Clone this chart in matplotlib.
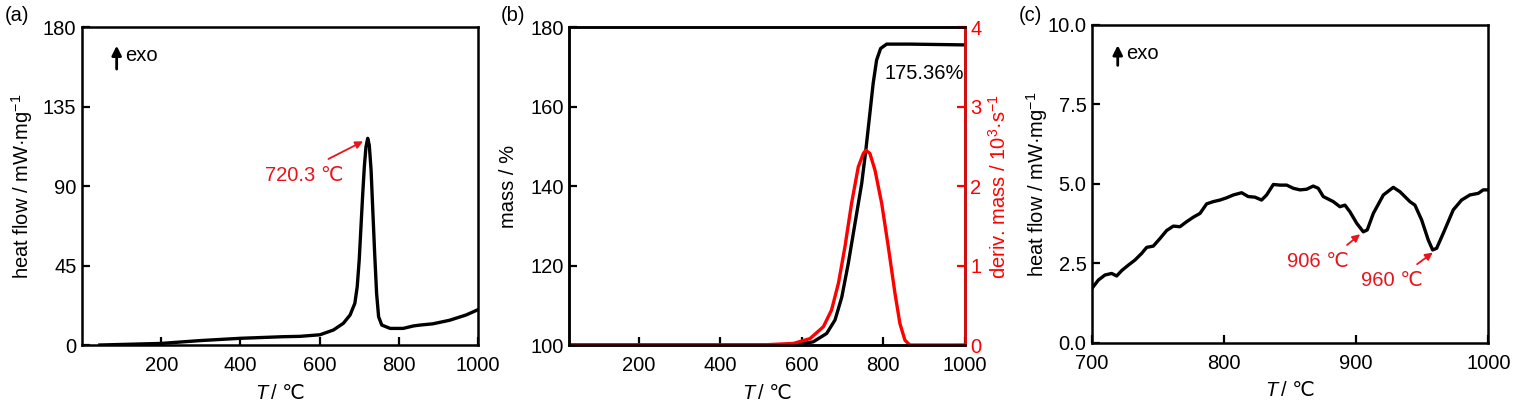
import numpy as np
import matplotlib
matplotlib.use("Agg")
import matplotlib.pyplot as plt

plt.rcParams['font.family'] = ['Liberation Sans Narrow', 'Liberation Sans', 'DejaVu Sans']
plt.rcParams['mathtext.fontset'] = 'custom'
plt.rcParams['mathtext.rm'] = 'Liberation Sans'
plt.rcParams['mathtext.it'] = 'Liberation Sans:italic'
plt.rcParams['font.size'] = 14.5

# (a) DSC over full range
dsc_t = [45, 200, 298, 400, 508, 550, 601, 635, 660, 677, 689, 695, 700, 704.5, 709, 713, 717, 721.5,
         725.5, 730, 734, 739, 744, 749, 757, 778, 811, 837, 854, 886, 928, 970, 1000]
dsc_hf = [0, 0.9, 2.5, 3.8, 4.7, 4.9, 5.8, 8.5, 12.3, 17, 23.6, 33, 48, 67, 86, 101, 112, 117,
          113, 99, 78, 52, 29, 16, 11.3, 9.4, 9.4, 10.8, 11.3, 12, 14, 17, 20]

# (b) TG / DTG
tg_t = [30, 590, 604, 628, 661, 681.5, 698, 714, 730.5, 747, 757, 767, 775, 783.5, 793.3, 808, 865, 1000]
tg_mass = [100, 100, 100.4, 100.8, 102.9, 106.3, 112, 120.5, 130.6, 140.7, 149, 158.3, 165.8, 171.7, 174.6, 175.7, 175.7, 175.5]
dtg_t = [30, 498, 580, 620, 653, 673, 690, 706, 722, 738.5, 751, 757, 767, 779.5, 796, 812, 828.5, 840.6, 853, 865, 1000]
dtg_rate = [0, 0, 0.02, 0.08, 0.23, 0.44, 0.78, 1.24, 1.78, 2.24, 2.41, 2.45, 2.41, 2.2, 1.78, 1.24, 0.65, 0.27, 0.06, 0, 0]

# (c) DSC 700-1000
c_t = [700, 704.8, 709.8, 714.9, 718.7, 722.5, 727.5, 732.5, 737.6, 741.4, 746.4, 751.5, 756.5, 761.6,
       766.6, 771.7, 776.7, 781.8, 786.8, 791.8, 796.9, 801.9, 807, 813.3, 818.3, 823.4, 828.4, 832.2,
       837.3, 842.3, 847.4, 852.4, 857.5, 862.5, 867.5, 871.3, 875.1, 882.7, 887.7, 891.5, 895.3, 900.4,
       905.4, 908.4, 913, 920.6, 928.1, 933.2, 940.7, 944.5, 949.6, 954.6, 957.9, 960.9, 965.9, 973.5,
       979.8, 986.1, 992.4, 996.2, 1000]
c_hf = [1.71, 1.97, 2.13, 2.18, 2.10, 2.27, 2.44, 2.60, 2.81, 3.00, 3.04, 3.28, 3.53, 3.67,
        3.65, 3.81, 3.95, 4.07, 4.37, 4.44, 4.49, 4.56, 4.65, 4.72, 4.60, 4.58, 4.49, 4.65,
        4.98, 4.96, 4.96, 4.86, 4.81, 4.83, 4.93, 4.86, 4.60, 4.44, 4.28, 4.33, 4.12, 3.76,
        3.49, 3.55, 4.07, 4.65, 4.89, 4.75, 4.44, 4.33, 3.86, 3.23, 2.92, 2.97, 3.44, 4.18,
        4.49, 4.65, 4.70, 4.81, 4.81]

RED = '#e8141c'


def style_axes(ax):
    for s in ax.spines.values():
        s.set_linewidth(1.8)
    ax.tick_params(direction='in', length=6, width=1.6, top=False, right=False)
    ax.tick_params(axis='x', pad=8)
    ax.tick_params(axis='y', pad=4)


def xlabel(ax):
    ax.text(0.468, -0.151, "T", style='italic', ha='right', va='center', transform=ax.transAxes)
    ax.text(0.478, -0.151, "/ \u2103", ha='left', va='center', transform=ax.transAxes)


def exo(ax, x, y0, y1):
    ax.annotate("", xy=(x, y1), xytext=(x, y0), xycoords='axes fraction',
                arrowprops=dict(arrowstyle='-|>', color='k', lw=2, mutation_scale=14))
    ax.text(x + 0.022, (y0 + y1) / 2 + 0.005, "exo", ha='left', va='center', transform=ax.transAxes)


fig = plt.figure(figsize=(15.16, 4.07), dpi=100)

# (a)
ax1 = fig.add_axes([0.0541, 0.1523, 0.2612, 0.7813])
ax1.plot(dsc_t, dsc_hf, color='k', lw=2.4)
ax1.set_xlim(0, 1000)
ax1.set_ylim(0, 180)
ax1.set_xticks([200, 400, 600, 800, 1000])
ax1.set_yticks([0, 45, 90, 135, 180])
style_axes(ax1)
ax1.set_ylabel("heat flow / mW\u00b7mg$^{-1}$")
ax1.yaxis.set_label_coords(-0.119, 0.5)
xlabel(ax1)
exo(ax1, 0.0875, 0.859, 0.95)
ax1.annotate("", xy=(716, 116), xytext=(616, 104.6),
             arrowprops=dict(arrowstyle='-|>', color=RED, lw=1.3, mutation_scale=11))
ax1.text(561, 96, "720.3 \u2103", color=RED, ha='center', va='center')
fig.text(0.003, 0.962, "(a)", ha='left', va='center')

# (b)
ax2 = fig.add_axes([0.3755, 0.1523, 0.2610, 0.7813])
ax2.plot(tg_t, tg_mass, color='k', lw=2.4)
ax2.set_xlim(30, 1000)
ax2.set_ylim(100, 180)
ax2.set_xticks([200, 400, 600, 800, 1000])
ax2.set_yticks([100, 120, 140, 160, 180])
style_axes(ax2)
ax2.set_ylabel("mass / %")
ax2.yaxis.set_label_coords(-0.130, 0.5)
xlabel(ax2)
ax2.text(900, 168.3, "175.36%", ha='center', va='center')

ax2r = ax2.twinx()
ax2r.plot(dtg_t, dtg_rate, color='#ff0000', lw=2.4)
ax2r.set_ylim(0, 4)
ax2r.set_yticks([0, 1, 2, 3, 4])
ax2r.spines['right'].set_color('#ff0000')
for s in ax2r.spines.values():
    s.set_linewidth(1.8)
ax2r.tick_params(axis='y', direction='in', length=6, width=1.6, colors='#ff0000', pad=4)
ax2r.set_ylabel("deriv. mass / 10$^{3}$\u00b7s$^{-1}$", color='#ff0000')
ax2r.yaxis.set_label_coords(1.058, 0.5)
fig.text(0.330, 0.962, "(b)", ha='left', va='center')

# (c)
ax3 = fig.add_axes([0.7203, 0.158, 0.2614, 0.7806])
ax3.plot(c_t, c_hf, color='k', lw=2.4)
ax3.set_xlim(700, 1000)
ax3.set_ylim(0, 10)
ax3.set_xticks([700, 800, 900, 1000])
ax3.set_yticks([0, 2.5, 5.0, 7.5, 10.0])
ax3.set_yticklabels(["0.0", "2.5", "5.0", "7.5", "10.0"])
style_axes(ax3)
ax3.set_ylabel("heat flow / mW\u00b7mg$^{-1}$")
ax3.yaxis.set_label_coords(-0.106, 0.5)
xlabel(ax3)
exo(ax3, 0.065, 0.864, 0.945)
ax3.annotate("", xy=(904.6, 3.47), xytext=(891.5, 3.02),
             arrowprops=dict(arrowstyle='-|>', color=RED, lw=1.3, mutation_scale=11))
ax3.text(871.3, 2.55, "906 \u2103", color=RED, ha='center', va='center')
ax3.annotate("", xy=(959.7, 2.89), xytext=(944.5, 2.42),
             arrowprops=dict(arrowstyle='-|>', color=RED, lw=1.3, mutation_scale=11))
ax3.text(927, 1.97, "960 \u2103", color=RED, ha='center', va='center')
fig.text(0.672, 0.962, "(c)", ha='left', va='center')

plt.savefig("out.png", dpi=100)
plt.close()
